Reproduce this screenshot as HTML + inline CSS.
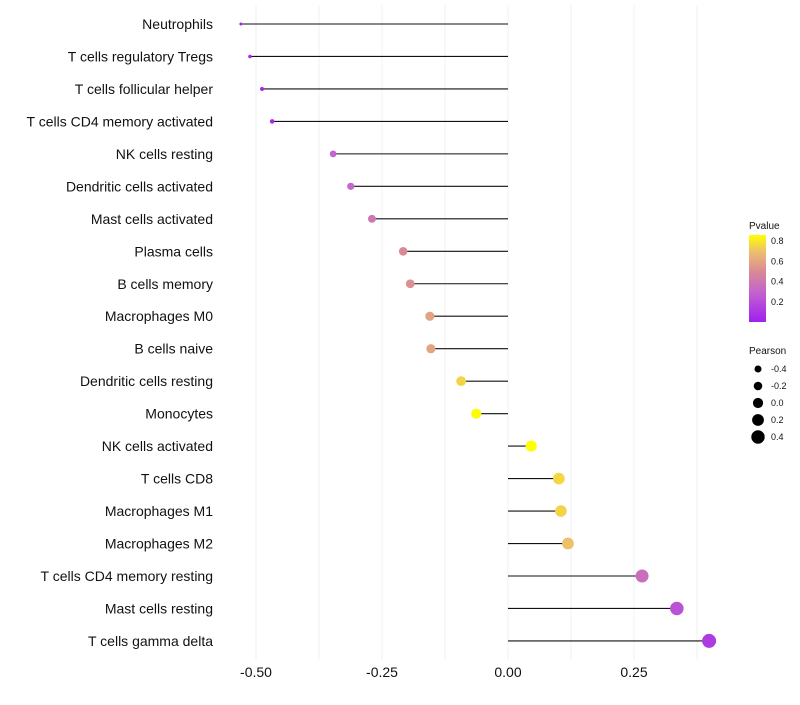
<!DOCTYPE html>
<html><head><meta charset="utf-8"><style>
body{margin:0;background:#fff;font-family:"Liberation Sans",sans-serif}
</style></head><body>
<svg id="c" width="800" height="700" xmlns="http://www.w3.org/2000/svg">
<defs><linearGradient id="pg" x1="0" y1="1" x2="0" y2="0">
<stop offset="0" stop-color="#a020f0"/><stop offset="0.35" stop-color="#c464cc"/><stop offset="0.58" stop-color="#d98a95"/><stop offset="0.8" stop-color="#ecbc70"/><stop offset="1" stop-color="#ffff00"/></linearGradient></defs>
<g id="grid"></g><g id="marks"></g><g id="labels"></g><g id="legend"></g>
</svg>
<script>
const categories=["Neutrophils","T cells regulatory  Tregs","T cells follicular helper","T cells CD4 memory activated","NK cells resting","Dendritic cells activated","Mast cells activated","Plasma cells","B cells memory","Macrophages M0","B cells naive","Dendritic cells resting","Monocytes","NK cells activated","T cells CD8","Macrophages M1","Macrophages M2","T cells CD4 memory resting","Mast cells resting","T cells gamma delta"];
const pearson=[-0.53,-0.512,-0.488,-0.468,-0.347,-0.312,-0.27,-0.208,-0.194,-0.155,-0.153,-0.093,-0.063,0.046,0.101,0.105,0.119,0.266,0.335,0.399];
const pvalue=[0.02,0.03,0.04,0.05,0.3,0.32,0.4,0.5,0.52,0.6,0.6,0.75,0.85,0.86,0.76,0.75,0.7,0.35,0.22,0.12];
const xTicks=[-0.5,-0.25,0,0.25];
const xTickLabels=["-0.50","-0.25","0.00","0.25"];
const sizeLegend=[-0.4,-0.2,0,0.2,0.4];
const pLegend=[0.2,0.4,0.6,0.8];
const NS="http://www.w3.org/2000/svg";
const x=v=>508+v*504;
const y=i=>24+i*32.47;
const r=v=>Math.sqrt(Math.max(1,28.9+50.3*v));
const stops=[[0,[160,32,240]],[0.35,[196,100,204]],[0.58,[217,138,149]],[0.8,[236,188,112]],[1,[255,255,0]]];
function col(p){let t=Math.min(1,Math.max(0,p/0.86));for(let k=1;k<stops.length;k++){if(t<=stops[k][0]){const a=stops[k-1],b=stops[k],f=(t-a[0])/(b[0]-a[0]);return `rgb(${a[1].map((c,j)=>Math.round(c+(b[1][j]-c)*f)).join(',')})`;}}return 'rgb(255,255,0)';}
function mk(tag,at,parent,txt){const e=document.createElementNS(NS,tag);for(const k in at)e.setAttribute(k,at[k]);if(txt!==undefined)e.textContent=txt;document.getElementById(parent).appendChild(e);return e;}
for(let v=-0.5;v<=0.38;v+=0.125){const g=mk('line',{x1:x(v),x2:x(v),y1:5,y2:660,stroke:'#f0f0f0','stroke-width':1},'grid');

}
xTicks.forEach((v,i)=>{const t=mk('text',{x:x(v),y:677,'text-anchor':'middle','font-size':14,fill:'#111'},'labels',xTickLabels[i]);

});
categories.forEach((c,i)=>{
const l=mk('line',{x1:x(0),x2:x(pearson[i]),y1:y(i),y2:y(i),stroke:'#111','stroke-width':1.1},'marks');


const d=mk('circle',{cx:x(pearson[i]),cy:y(i),r:r(pearson[i]),fill:col(pvalue[i])},'marks');


const t=mk('text',{x:213,y:y(i)+5,'text-anchor':'end','font-size':14,fill:'#111'},'labels',c);


});
let e=mk('text',{x:749,y:229,'font-size':10,fill:'#111'},'legend','Pvalue');


e=mk('rect',{x:749,y:235,width:17,height:87,fill:'url(#pg)'},'legend');


pLegend.forEach(p=>{const yy=322-p/0.86*87;const t=mk('text',{x:771,y:yy+3,'font-size':9,fill:'#111'},'legend',p.toFixed(1));

});
e=mk('text',{x:749,y:354,'font-size':10,fill:'#111'},'legend','Pearson');


sizeLegend.forEach((v,i)=>{const yy=369+i*17;const c=mk('circle',{cx:758,cy:yy,r:3.5+i*0.8,fill:'#000'},'legend');


const t=mk('text',{x:771,y:yy+3,'font-size':9,fill:'#111'},'legend',v.toFixed(1));

});
</script>
</body></html>
